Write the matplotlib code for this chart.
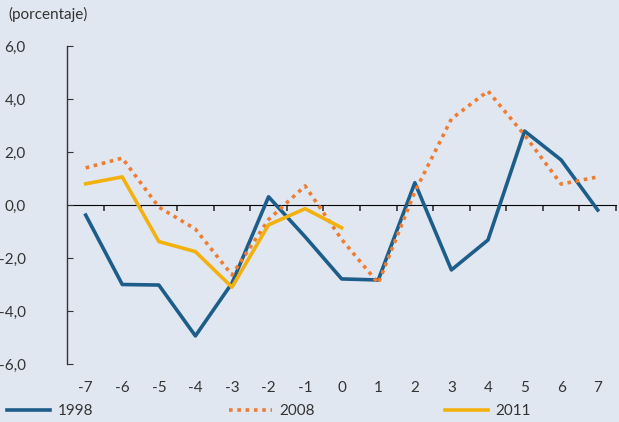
import matplotlib.pyplot as plt
import numpy as np
from matplotlib.ticker import FuncFormatter

# Time relative to the reference point (years)
periods = [-7, -6, -5, -4, -3, -2, -1, 0, 1, 2, 3, 4, 5, 6, 7]

series_1998 = [-0.38, -3.0, -3.02, -4.94, -2.95, 0.31, -1.2, -2.79, -2.83,
               0.84, -2.45, -1.32, 2.79, 1.70, -0.19]
series_2008 = [1.40, 1.77, -0.08, -0.91, -2.64, -0.55, 0.72, -1.30, -2.95,
               0.50, 3.25, 4.30, 2.64, 0.79, 1.06]
periods_2011 = [-7, -6, -5, -4, -3, -2, -1, 0]
series_2011 = [0.80, 1.06, -1.38, -1.76, -3.10, -0.75, -0.14, -0.86]

BG = "#e1e7f1"
BLUE = "#1d5d8a"
ORANGE = "#ee7d32"
YELLOW = "#f2b10f"
TEXT = "#333333"
FONT_SIZE = 11

plt.rcParams["font.family"] = ["Lato", "DejaVu Sans"]
plt.rcParams["axes.unicode_minus"] = False

fig = plt.figure(figsize=(6.19, 4.22), dpi=100, facecolor=BG)
ax = fig.add_axes([67.4 / 619, 1 - 364 / 422, (616 - 67.4) / 619, (364 - 46) / 422])
ax.set_facecolor(BG)

l1, = ax.plot(periods, series_1998, color=BLUE, linewidth=2.6)
l2, = ax.plot(periods, series_2008, color=ORANGE, linewidth=2.6, linestyle=(0, (1, 1.3)))
l3, = ax.plot(periods_2011, series_2011, color=YELLOW, linewidth=2.6)

ax.set_xlim(-7.5, 7.5)
ax.set_ylim(-6, 6)

for side in ("top", "right", "bottom"):
    ax.spines[side].set_visible(False)
ax.spines["left"].set_color(TEXT)
ax.spines["left"].set_linewidth(1.0)

ax.set_yticks(np.arange(-6, 7, 2))
ax.yaxis.set_major_formatter(FuncFormatter(lambda v, _: f"{v:.1f}".replace(".", ",")))
ax.tick_params(axis="y", direction="in", length=4, color=TEXT, pad=30,
               labelsize=FONT_SIZE, labelcolor=TEXT)

ax.set_xticks(periods)
ax.tick_params(axis="x", length=0, pad=12, labelsize=FONT_SIZE, labelcolor=TEXT)

# zero line with ticks between the periods
zero = ax.secondary_xaxis(0.5)
zero.spines["bottom"].set_color("#666666")
zero.spines["bottom"].set_linewidth(1.5)
zero.set_xticks(np.arange(-6.5, 8, 1.0))
zero.set_xticklabels([])
zero.tick_params(axis="x", direction="in", length=4, width=1.2, color=TEXT)

fig.text(8 / 619, 1 - 14 / 422, "(porcentaje)", fontsize=FONT_SIZE, color=TEXT,
         va="center", ha="left")

legend_spots = [(l1, "1998", 7), (l2, "2008", 229), (l3, "2011", 445)]
for handle, label, x_px in legend_spots:
    fig.legend(handles=[handle], labels=[label], loc="center left",
               bbox_to_anchor=(x_px / 619, 1 - 411 / 422), frameon=False,
               borderpad=0, borderaxespad=0, handlelength=2.8, handletextpad=0.5,
               fontsize=FONT_SIZE, labelcolor=TEXT)

fig.savefig("out.png", dpi=100, facecolor=BG)
